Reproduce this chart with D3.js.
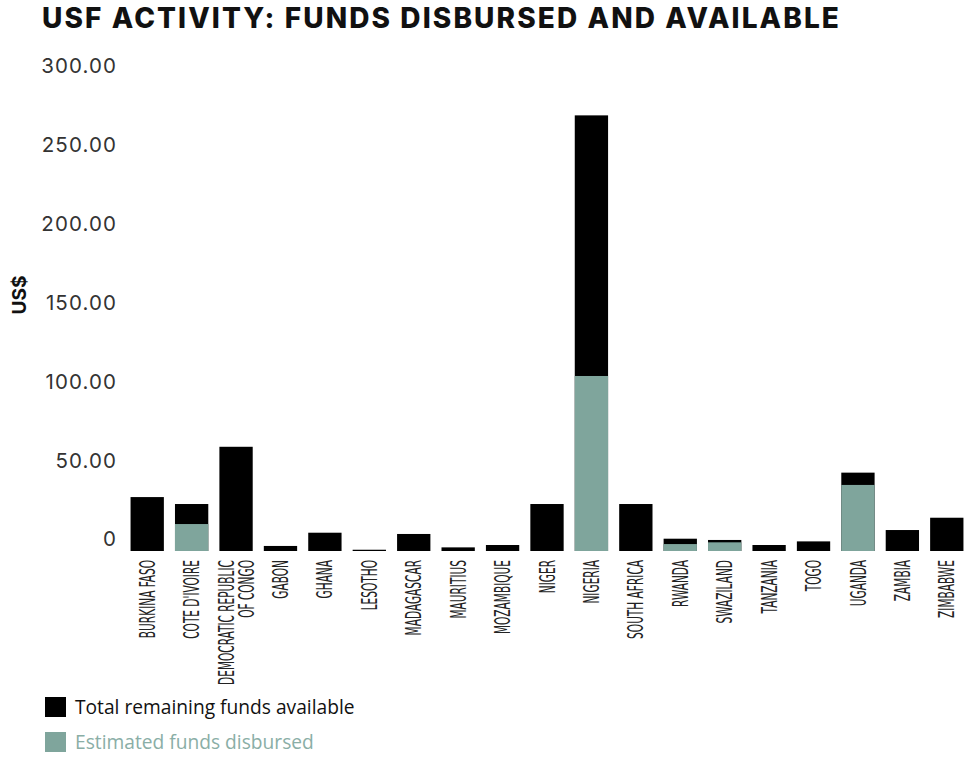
<!DOCTYPE html>
<html>
<head>
<meta charset="utf-8">
<script src="https://cdn.jsdelivr.net/npm/d3@7"></script>
<style>
  body { margin: 0; background: #fff; }
  svg { display: block; }
</style>
</head>
<body>
<svg width="975" height="760"></svg>
<script>
// data (US$ millions)
const countries = ["BURKINA FASO", "COTE D'IVOIRE", "DEMOCRATIC REPUBLIC\nOF CONGO", "GABON", "GHANA",
  "LESOTHO", "MADAGASCAR", "MAURITIUS", "MOZAMBIQUE", "NIGER", "NIGERIA", "SOUTH AFRICA",
  "RWANDA", "SWAZILAND", "TANZANIA", "TOGO", "UGANDA", "ZAMBIA", "ZIMBABWE"];
const totalAvailable = [34.2, 29.8, 66.1, 3.2, 11.6, 0.8, 10.8, 2.3, 3.8, 29.8, 276.3, 29.8,
  7.8, 7.0, 3.8, 6.1, 49.7, 13.3, 21.1];
const disbursed = [0, 17.1, 0, 0, 0, 0, 0, 0, 0, 0, 111.0, 0,
  4.4, 5.5, 0, 0, 41.9, 0, 0];
const yTicks = [0, 50, 100, 150, 200, 250, 300];

const black = "#000000";
const green = "#7fa59c";

const svg = d3.select("svg");
const baseY = 551;

const x = d3.scaleBand()
  .domain(countries)
  .range([125, 969])
  .paddingInner(0.25)
  .paddingOuter(0.125);

const y = d3.scaleLinear()
  .domain([0, 300])
  .range([baseY, 78]);

const rows = countries.map((c, i) => ({ country: c, total: totalAvailable[i], disbursed: disbursed[i] }));

// title
svg.append("text")
  .attr("x", 42)
  .attr("y", 28)
  .attr("font-family", "Inter, 'DejaVu Sans', sans-serif")
  .attr("font-weight", 800)
  .attr("font-size", 28)
  .attr("letter-spacing", 2.1)
  .attr("fill", "#111")
  .text("USF ACTIVITY: FUNDS DISBURSED AND AVAILABLE");

// y axis (labels only)
const yAxis = svg.append("g")
  .attr("transform", "translate(117,0)")
  .call(d3.axisLeft(y).tickValues(yTicks).tickSize(0).tickPadding(0)
    .tickFormat(d => d === 0 ? "0" : d3.format(".2f")(d)));
yAxis.select(".domain").remove();
yAxis.selectAll("text")
  .attr("dy", "-0.25em")
  .attr("font-family", "Inter, 'Open Sans', sans-serif")
  .attr("font-size", 20.5)
  .attr("letter-spacing", 1.1)
  .attr("fill", "#333");

svg.append("text")
  .attr("transform", "translate(26,295) rotate(-90)")
  .attr("text-anchor", "middle")
  .attr("font-family", "Inter, 'DejaVu Sans', sans-serif")
  .attr("font-weight", 700)
  .attr("font-size", 19)
  .attr("fill", "#111")
  .text("US$");

// bars: total available in black, disbursed in green on top of it
svg.append("g").selectAll("rect")
  .data(rows)
  .join("rect")
  .attr("x", d => x(d.country))
  .attr("y", d => y(d.total))
  .attr("width", x.bandwidth())
  .attr("height", d => y(0) - y(d.total))
  .attr("fill", black);

svg.append("g").selectAll("rect")
  .data(rows.filter(d => d.disbursed > 0))
  .join("rect")
  .attr("x", d => x(d.country))
  .attr("y", d => y(d.disbursed))
  .attr("width", x.bandwidth())
  .attr("height", d => y(0) - y(d.disbursed))
  .attr("fill", green);

// x labels, rotated and condensed
const xLabels = svg.append("g").selectAll("text")
  .data(countries)
  .join("text")
  .attr("transform", d => `translate(${x(d) + x.bandwidth() / 2},560) rotate(-90) scale(0.56,1)`)
  .attr("text-anchor", "end")
  .attr("font-family", "'Liberation Sans Narrow', 'DejaVu Sans Condensed', sans-serif")
  .attr("font-size", 21)
  .attr("fill", "#222");

xLabels.each(function (d) {
  const lines = d.split("\n");
  const t = d3.select(this);
  lines.forEach((line, i) => {
    t.append("tspan")
      .attr("x", 0)
      .attr("y", (i - (lines.length - 1) / 2) * 20)
      .attr("dy", "0.36em")
      .text(line);
  });
});

// legend
const legend = [
  { label: "Total remaining funds available", color: black, text: "#111" },
  { label: "Estimated funds disbursed", color: green, text: "#8aaea6" }
];
const lg = svg.append("g").attr("transform", "translate(45,697)");
legend.forEach((l, i) => {
  lg.append("rect")
    .attr("x", 0)
    .attr("y", i * 35)
    .attr("width", 21)
    .attr("height", 20)
    .attr("fill", l.color);
  lg.append("text")
    .attr("x", 30)
    .attr("y", i * 35 + 17)
    .attr("font-family", "'Open Sans', sans-serif")
    .attr("font-size", 19.2)
    .attr("fill", l.text)
    .text(l.label);
});
</script>
</body>
</html>
